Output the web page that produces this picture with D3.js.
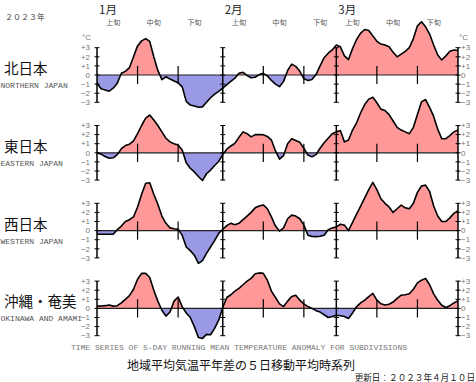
<!DOCTYPE html>
<html>
<head>
<meta charset="utf-8">
<script src="https://cdn.jsdelivr.net/npm/d3@7"></script>
<style>
  body { margin: 0; background: #fff; }
  svg { display: block; }
</style>
</head>
<body>
<div id="chart"></div>
<script>
//------------------------------------------------------------------------ Data
var regionsJa = ["北日本", "東日本", "西日本", "沖縄・奄美"];
var regionsEn = ["NORTHERN JAPAN", "EASTERN JAPAN", "WESTERN JAPAN", "OKINAWA AND AMAMI"];

// 5-day running mean anomaly (deg C), one value per day, Jan 1 - Mar 31 2023
var north = [
  -0.9, -1.5, -1.65, -1.78, -1.45, -0.9, 0.2, 0.4, 0.8, 2.0,
  3.2, 3.75, 4.0, 3.7, 2.0, 0.5, -0.5, -0.2, -0.45, -0.65,
  -0.85, -1.3, -2.9, -3.3, -3.4, -3.55, -3.5, -3.0, -2.5, -2.1,
  -1.8, -1.45, -1.05, -0.7, -0.35, 0.2, 0.3, -0.05, -0.3, -0.25,
  0.05, 0.18, -0.1, -0.6, -1.0, -1.28, -0.7, 0.5, 1.2, 0.95,
  0.4, -0.4, -0.6, -0.5, 0.05, 1.0, 1.9, 2.4, 2.75, 3.3,
  3.1, 2.1, 1.7, 2.9, 3.9, 4.6, 5.0, 4.9, 4.3, 3.7,
  3.4, 3.3, 3.1, 2.5, 2.0, 2.3, 2.6, 3.0, 4.0, 5.4,
  5.85, 5.3, 4.5, 3.3, 2.2, 1.65, 2.1, 2.6, 2.75, 2.7
];
var east = [
  0, -0.15, -0.4, -0.6, -0.55, -0.2, 0.45, 0.8, 0.95, 1.3,
  2.1, 3.0, 3.8, 4.15, 3.6, 3.0, 2.3, 1.6, 1.2, 1.0,
  0.85, 0.3, -1.1, -1.7, -2.1, -2.6, -3.05, -2.3, -1.9, -1.4,
  -0.95, -0.2, 0.4, 0.75, 1.05, 1.7, 2.3, 2.1, 1.75, 2.0,
  2.0, 1.98, 1.8, 1.4, 0.2, -0.7, -0.3, 1.0, 1.55, 1.35,
  1.15, 0.5, -0.25, -0.45, -0.2, 0.5, 1.1, 1.6, 2.1, 2.3,
  2.45, 1.2, 1.4, 2.5, 3.3, 4.4, 5.3, 5.9, 6.1, 5.5,
  4.8, 4.65, 4.2, 3.5, 2.8, 2.5, 2.3, 2.1, 2.8, 4.2,
  5.6, 5.85, 5.0, 4.0, 2.6, 1.55, 1.55, 1.9, 2.3, 2.5
];
var west = [
  -0.4, -0.4, -0.4, -0.4, -0.4, 0.1, 0.5, 1.0, 1.2, 1.5,
  2.6, 4.0, 5.2, 5.25, 4.0, 2.9, 1.6, 0.8, 0.3, 0.2,
  0.15, -0.5, -1.8, -2.2, -2.7, -3.6, -3.3, -2.5, -1.8, -1.1,
  -0.3, 0.15, 0.55, 0.8, 0.65, 0.8, 1.2, 1.6, 2.0, 2.5,
  2.7, 2.82, 2.4, 1.5, 0.5, -0.05, 0.3, 1.3, 1.7, 1.6,
  1.3, 0.6, -0.5, -0.65, -0.66, -0.62, -0.5, 0.1, 0.3, 0.4,
  0.7, 0.6, 0.0, 0.9, 1.8, 2.7, 3.6, 4.5, 5.3, 4.5,
  3.5, 3.0, 2.6, 2.0, 2.4, 2.8, 2.5, 2.4, 3.0, 4.2,
  4.9, 5.0, 4.3, 2.7, 1.6, 1.0, 1.0, 1.4, 1.9, 2.2
];
var okinawa = [
  0.25, 0.27, 0.3, 0.37, 0.25, 0.3, 0.6, 1.0, 1.4, 2.1,
  3.2, 3.85, 3.85, 3.4, 2.0, 0.8, -0.2, -0.85, -0.4, 0.8,
  1.25, 0.2, -0.5, -1.0, -2.0, -3.2, -3.3, -2.85, -2.9, -2.2,
  -1.3, 0.1, 1.2, 1.5, 1.9, 2.2, 2.6, 3.0, 3.3, 3.8,
  3.9, 3.85, 3.1, 1.9, 1.2, 0.5, 0.2, 0.8, 1.3, 1.45,
  0.9, 0.5, 0.2, 0.0, -0.25, -0.4, -0.7, -1.0, -0.9, -0.75,
  -0.8, -0.9, -1.1, -0.5, 0.2, 0.6, 0.9, 1.3, 1.65, 0.9,
  0.5, 0.37, 0.45, 0.7, 1.1, 1.45, 1.5, 1.6, 2.1, 2.8,
  3.1, 3.3, 2.6, 1.6, 0.9, 0.35, 0.1, 0.3, 0.6, 0.85
];
var series = [north, east, west, okinawa];

var yTicks = [3, 2, 1, 0, -1, -2, -3];
var monthLabels = ["1月", "2月", "3月"];
var dekadLabels = ["上旬", "中旬", "下旬"];

//------------------------------------------------------------------------ Layout
var W = 476, H = 382;
var colPos = "#ff9999", colNeg = "#9999e6";
var fontJa = "'Noto Sans CJK JP', sans-serif";
var fontMono = "'Liberation Mono', 'DejaVu Sans Mono', monospace";
var fontSans = "'Liberation Sans', Arial, sans-serif";

var svg = d3.select("#chart").append("svg")
  .attr("width", W)
  .attr("height", H);

var dates = d3.timeDay.range(new Date(2023, 0, 1), new Date(2023, 3, 1));
var x = d3.scaleTime()
  .domain([new Date(2023, 0, 1), new Date(2023, 2, 31)])
  .range([97, 458]);

var monthStarts = [new Date(2023, 0, 1), new Date(2023, 1, 1), new Date(2023, 2, 1)];
var dekadStarts = [];
monthStarts.forEach(function(m){
  [1, 11, 21].forEach(function(d){ dekadStarts.push(new Date(m.getFullYear(), m.getMonth(), d)); });
});
var majorLines = [new Date(2023, 0, 1), new Date(2023, 1, 1), new Date(2023, 2, 1), new Date(2023, 2, 31)];
var minorTicks = dekadStarts.filter(function(d){ return d.getDate() !== 1; });

function fmt(v){ return v > 0 ? "+" + v : (v < 0 ? "\u2212" + (-v) : "0"); }

//------------------------------------------------------------------------ Header
svg.append("text")
  .attr("x", 5).attr("y", 20)
  .attr("font-family", fontJa).attr("font-size", 8).attr("fill", "#444")
  .text("２０２３年");

svg.selectAll(".month").data(monthStarts).enter().append("text")
  .attr("x", function(d){ return x(d) + 2; })
  .attr("y", 13.5)
  .attr("font-family", fontJa).attr("font-size", 11.5).attr("fill", "#222")
  .text(function(d, i){ return monthLabels[i]; });

svg.selectAll(".dekad").data(dekadStarts).enter().append("text")
  .attr("x", function(d){ return x(d3.timeDay.offset(d, 4)); })
  .attr("y", 25)
  .attr("text-anchor", "middle")
  .attr("font-family", fontJa).attr("font-size", 7.2).attr("fill", "#555")
  .text(function(d, i){ return dekadLabels[i % 3]; });

//------------------------------------------------------------------------ Panels
series.forEach(function(vals, i){
  var zero = 75 + i * 77.8;
  var y = d3.scaleLinear().domain([-3, 3]).range([zero + 27.3, zero - 27.3]);
  var data = dates.map(function(d, k){ return {date: d, v: vals[k]}; });
  var g = svg.append("g");

  var clipP = "clipPos" + i, clipN = "clipNeg" + i;
  var defs = g.append("defs");
  defs.append("clipPath").attr("id", clipP).append("rect")
    .attr("x", x.range()[0]).attr("y", 0)
    .attr("width", x.range()[1] - x.range()[0]).attr("height", y(0));
  defs.append("clipPath").attr("id", clipN).append("rect")
    .attr("x", x.range()[0]).attr("y", y(0))
    .attr("width", x.range()[1] - x.range()[0]).attr("height", H - y(0));

  var area = d3.area()
    .x(function(d){ return x(d.date); })
    .y0(y(0))
    .y1(function(d){ return y(d.v); });

  g.append("path").datum(data).attr("d", area)
    .attr("fill", colPos).attr("clip-path", "url(#" + clipP + ")");
  g.append("path").datum(data).attr("d", area)
    .attr("fill", colNeg).attr("clip-path", "url(#" + clipN + ")");

  // zero line
  g.append("line")
    .attr("x1", x.range()[0]).attr("x2", x.range()[1])
    .attr("y1", y(0)).attr("y2", y(0))
    .attr("stroke", "#222").attr("stroke-width", 1.2);

  // month boundaries and side axes with integer ticks
  majorLines.forEach(function(d){
    var xx = x(d);
    g.append("line")
      .attr("x1", xx).attr("x2", xx).attr("y1", y(3)).attr("y2", y(-3))
      .attr("stroke", "#000").attr("stroke-width", 1.5);
    g.selectAll(null).data(yTicks).enter().append("line")
      .attr("x1", xx - 2.5).attr("x2", xx + 2.5)
      .attr("y1", function(t){ return y(t); }).attr("y2", function(t){ return y(t); })
      .attr("stroke", "#000").attr("stroke-width", 1);
  });

  // dekad ticks
  g.selectAll(null).data(minorTicks).enter().append("line")
    .attr("x1", function(d){ return x(d); }).attr("x2", function(d){ return x(d); })
    .attr("y1", y(1)).attr("y2", y(-1))
    .attr("stroke", "#000").attr("stroke-width", 1.2);

  // curve
  var line = d3.line()
    .x(function(d){ return x(d.date); })
    .y(function(d){ return y(d.v); });
  g.append("path").datum(data).attr("d", line)
    .attr("fill", "none").attr("stroke", "#000")
    .attr("stroke-width", 1.6).attr("stroke-linejoin", "round");

  // tick labels
  g.selectAll(null).data(yTicks).enter().append("text")
    .attr("x", 90).attr("y", function(t){ return y(t) + 2.7; })
    .attr("text-anchor", "end")
    .attr("font-family", fontSans).attr("font-size", 8).attr("fill", "#777")
    .text(fmt);
  g.selectAll(null).data(yTicks).enter().append("text")
    .attr("x", 461).attr("y", function(t){ return y(t) + 2.7; })
    .attr("font-family", fontSans).attr("font-size", 8).attr("fill", "#777")
    .text(fmt);

  if (i === 0) {
    g.append("text").attr("x", 82).attr("y", 40)
      .attr("font-family", fontSans).attr("font-size", 8).attr("fill", "#777").text("°C");
    g.append("text").attr("x", 459).attr("y", 40)
      .attr("font-family", fontSans).attr("font-size", 8).attr("fill", "#777").text("°C");
  }

  // region labels
  g.append("text").attr("x", 4).attr("y", zero - 1)
    .attr("font-family", fontJa).attr("font-size", 14.5).attr("fill", "#111")
    .text(regionsJa[i]);
  g.append("text").attr("x", 0.5).attr("y", zero + 13)
    .attr("font-family", fontMono).attr("font-size", 8).attr("fill", "#555")
    .text(regionsEn[i]);
});

//------------------------------------------------------------------------ Footer
svg.append("text")
  .attr("x", 239).attr("y", 350)
  .attr("text-anchor", "middle")
  .attr("font-family", fontMono).attr("font-size", 8).attr("fill", "#777")
  .text("TIME SERIES OF 5-DAY RUNNING MEAN TEMPERATURE ANOMALY FOR SUBDIVISIONS");

svg.append("text")
  .attr("x", 241).attr("y", 370)
  .attr("text-anchor", "middle")
  .attr("font-family", fontJa).attr("font-size", 12).attr("fill", "#111")
  .text("地域平均気温平年差の５日移動平均時系列");

svg.append("text")
  .attr("x", 475).attr("y", 381)
  .attr("text-anchor", "end")
  .attr("font-family", fontJa).attr("font-size", 8.6).attr("fill", "#222")
  .text("更新日：２０２３年４月１０日");
</script>
</body>
</html>
